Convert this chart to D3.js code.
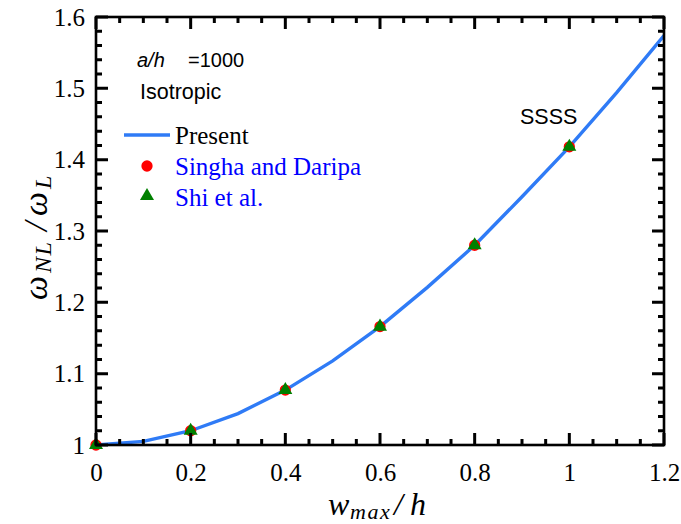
<!DOCTYPE html>
<html>
<head>
<meta charset="utf-8">
<script src="https://cdn.jsdelivr.net/npm/d3@7"></script>
<style>
  html, body { margin: 0; padding: 0; background: #fff; }
  svg { display: block; }
</style>
</head>
<body>
<svg id="chart" width="681" height="524"></svg>
<script>
// Nonlinear-to-linear frequency ratio vs. amplitude, isotropic plate, a/h = 1000, SSSS
const presentX = [0, 0.1, 0.2, 0.3, 0.4, 0.5, 0.6, 0.7, 0.8, 0.9, 1.0, 1.1, 1.2];
const presentY = [1.0, 1.005, 1.020, 1.044, 1.077, 1.118, 1.166, 1.221, 1.280, 1.348, 1.418, 1.494, 1.574];
const singhaX = [0, 0.2, 0.4, 0.6, 0.8, 1.0];
const singhaY = [1.0, 1.020, 1.077, 1.166, 1.280, 1.418];
const shiX = [0, 0.2, 0.4, 0.6, 0.8, 1.0];
const shiY = [1.0, 1.020, 1.077, 1.166, 1.280, 1.418];
const xTicks = [0, 0.2, 0.4, 0.6, 0.8, 1.0, 1.2];
const xTickLabels = ["0", "0.2", "0.4", "0.6", "0.8", "1", "1.2"];
const yTicks = [1.0, 1.1, 1.2, 1.3, 1.4, 1.5, 1.6];
const yTickLabels = ["1", "1.1", "1.2", "1.3", "1.4", "1.5", "1.6"];
const legendNames = ["Present", "Singha and Daripa", "Shi et al."];

const svg = d3.select("#chart");
const L = 96, R = 664, T = 17, B = 445;
const x = d3.scaleLinear().domain([0, 1.2]).range([L, R]);
const y = d3.scaleLinear().domain([1.0, 1.6]).range([B, T]);

const serif = "'Liberation Serif', 'Times New Roman', serif";
const sans = "'Liberation Sans', Arial, sans-serif";

const xMinor = d3.range(0, 1.2001, 0.05).filter(v => Math.abs(v / 0.2 - Math.round(v / 0.2)) > 1e-6);
const yMinor = d3.range(1.0, 1.6001, 0.02).filter(v => Math.abs(v / 0.1 - Math.round(v / 0.1)) > 1e-6);

// tick labels from d3 axes
const xAxisG = svg.append("g").attr("transform", `translate(0,${B})`)
  .call(d3.axisBottom(x).tickValues(xTicks).tickFormat((d, i) => xTickLabels[i]).tickSize(0).tickPadding(18));
const yAxisG = svg.append("g").attr("transform", `translate(${L},0)`)
  .call(d3.axisLeft(y).tickValues(yTicks).tickFormat((d, i) => yTickLabels[i]).tickSize(0).tickPadding(11));
[xAxisG, yAxisG].forEach(g => {
  g.select(".domain").remove();
  g.selectAll(".tick line").remove();
  g.selectAll(".tick text").attr("font-family", serif).attr("font-size", 25).attr("fill", "#000");
});

// present curve
svg.append("clipPath").attr("id", "plotclip")
  .append("rect").attr("x", L).attr("y", T).attr("width", R - L).attr("height", B - T);
const line = d3.line().x(d => x(d[0])).y(d => y(d[1]));
svg.append("path")
  .datum(presentX.map((v, i) => [v, presentY[i]]))
  .attr("clip-path", "url(#plotclip)")
  .attr("d", line).attr("fill", "none").attr("stroke", "#2F7BF6").attr("stroke-width", 3.4);

// reference points
const circleSym = d3.symbol().type(d3.symbolCircle).size(100);
const triSym = d3.symbol().type(d3.symbolTriangle).size(85);
svg.append("g").selectAll("path").data(singhaX.map((v, i) => [v, singhaY[i]])).join("path")
  .attr("transform", d => `translate(${x(d[0])},${y(d[1])})`)
  .attr("d", circleSym).attr("fill", "#FF0000");
svg.append("g").selectAll("path").data(shiX.map((v, i) => [v, shiY[i]])).join("path")
  .attr("transform", d => `translate(${x(d[0])},${y(d[1])})`)
  .attr("d", triSym).attr("fill", "#008000");

// annotations
const ann = svg.append("text").attr("x", 137).attr("y", 67)
  .attr("font-family", sans).attr("font-size", 20).attr("fill", "#000");
ann.append("tspan").attr("font-style", "italic").text("a/h");
ann.append("tspan").attr("x", 188).text("=1000");
svg.append("text").attr("x", 140).attr("y", 99).attr("font-family", sans)
  .attr("font-size", 21.5).attr("fill", "#000").text("Isotropic");
svg.append("text").attr("x", 520).attr("y", 124).attr("font-family", sans)
  .attr("font-size", 21.5).attr("fill", "#000").text("SSSS");

// legend
const lg = svg.append("g");
lg.append("line").attr("x1", 124).attr("x2", 170).attr("y1", 135).attr("y2", 135)
  .attr("stroke", "#2F7BF6").attr("stroke-width", 3.4);
lg.append("text").attr("x", 175).attr("y", 144).attr("font-family", serif).attr("font-size", 25)
  .attr("fill", "#000").text(legendNames[0]);
lg.append("path").attr("transform", "translate(147,166)").attr("d", circleSym).attr("fill", "#FF0000");
lg.append("text").attr("x", 175).attr("y", 175).attr("font-family", serif).attr("font-size", 25)
  .attr("fill", "#0000FF").text(legendNames[1]);
lg.append("path").attr("transform", "translate(147,196)").attr("d", triSym).attr("fill", "#008000");
lg.append("text").attr("x", 175).attr("y", 206).attr("font-family", serif).attr("font-size", 25)
  .attr("fill", "#0000FF").text(legendNames[2]);

// axis titles
const xt = svg.append("text").attr("y", 515)
  .attr("font-family", serif).attr("font-style", "italic").attr("font-size", 32).attr("fill", "#000");
xt.append("tspan").attr("x", 328).text("w");
xt.append("tspan").attr("x", 350).attr("dy", 4).attr("font-size", 22).attr("letter-spacing", 1.5).text("max");
xt.append("tspan").attr("x", 394).attr("dy", -4).text("/");
xt.append("tspan").attr("x", 410).text("h");

const yt = svg.append("text").attr("transform", "translate(47,300) rotate(-90)")
  .attr("font-family", serif).attr("font-style", "italic").attr("font-size", 34).attr("fill", "#000");
yt.append("tspan").attr("x", 0).text("ω");
yt.append("tspan").attr("x", 27).attr("dy", 4).attr("font-size", 24).attr("letter-spacing", 1.5).text("NL");
yt.append("tspan").attr("x", 69).attr("dy", -4).text("/");
yt.append("tspan").attr("x", 84).text("ω");
yt.append("tspan").attr("x", 111).attr("dy", 4).attr("font-size", 24).text("L");

// frame and inward tick marks on all four sides, drawn on top
const MAJ = 12, MIN = 6;
const tp = d3.path();
xTicks.map(v => [v, MAJ]).concat(xMinor.map(v => [v, MIN])).forEach(([v, len]) => {
  tp.moveTo(x(v), B); tp.lineTo(x(v), B - len);
  tp.moveTo(x(v), T); tp.lineTo(x(v), T + len);
});
yTicks.map(v => [v, MAJ]).concat(yMinor.map(v => [v, MIN])).forEach(([v, len]) => {
  tp.moveTo(L, y(v)); tp.lineTo(L + len, y(v));
  tp.moveTo(R, y(v)); tp.lineTo(R - len, y(v));
});
svg.append("path").attr("d", tp.toString()).attr("fill", "none")
  .attr("stroke", "#000").attr("stroke-width", 3);
svg.append("rect").attr("x", L).attr("y", T).attr("width", R - L).attr("height", B - T)
  .attr("fill", "none").attr("stroke", "#000").attr("stroke-width", 2.6);
</script>
</body>
</html>
